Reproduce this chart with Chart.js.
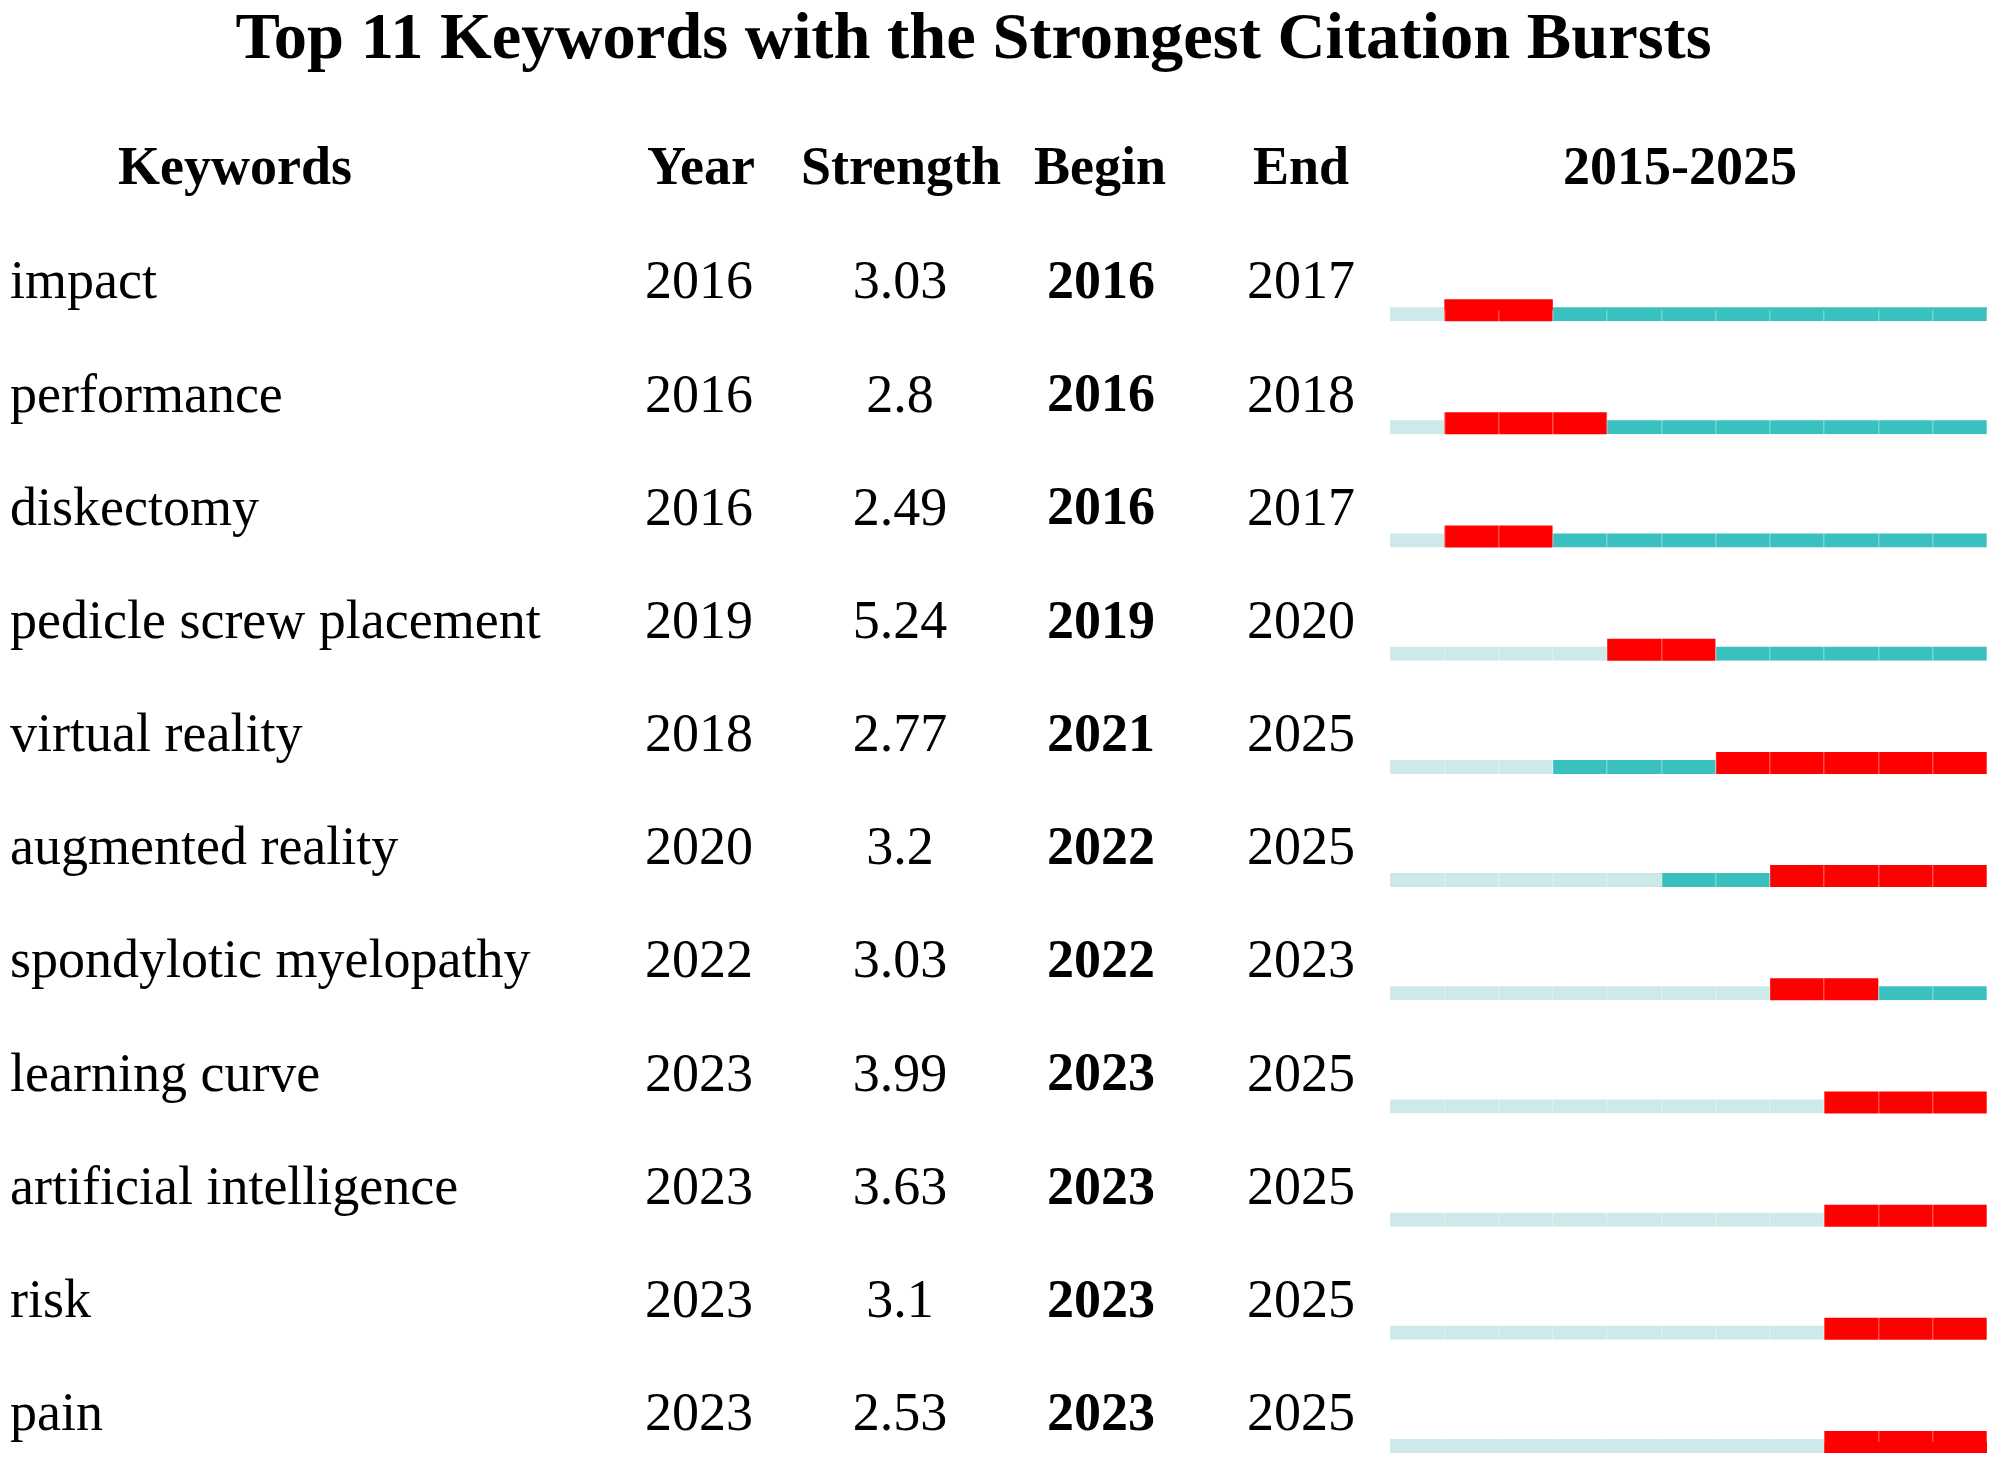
<!DOCTYPE html>
<html>
<head>
<meta charset="utf-8">
<script src="https://cdn.jsdelivr.net/npm/chart.js@4.4.1/dist/chart.umd.min.js"></script>
<style>
  html, body { margin: 0; padding: 0; background: #ffffff; }
  #wrap { width: 2000px; height: 1462px; }
</style>
</head>
<body>
<div id="wrap"><canvas id="c" width="2000" height="1462"></canvas></div>
<script>
// ---- Data ----
const keywords = ["impact", "performance", "diskectomy", "pedicle screw placement", "virtual reality",
  "augmented reality", "spondylotic myelopathy", "learning curve", "artificial intelligence", "risk", "pain"];
const years    = [2016, 2016, 2016, 2019, 2018, 2020, 2022, 2023, 2023, 2023, 2023];
const strength = [3.03, 2.8, 2.49, 5.24, 2.77, 3.2, 3.03, 3.99, 3.63, 3.1, 2.53];
const begins   = [2016, 2016, 2016, 2019, 2021, 2022, 2022, 2023, 2023, 2023, 2023];
const ends     = [2017, 2018, 2017, 2020, 2025, 2025, 2023, 2025, 2025, 2025, 2025];
const headers  = ["Keywords", "Year", "Strength", "Begin", "End", "2015-2025"];
const titleText = "Top 11 Keywords with the Strongest Citation Bursts";
const firstYear = 2015;
const lastYear  = 2025;

// ---- Segments derived from data ----
const preSeg   = years.map(y => y > firstYear ? [firstYear, y] : null);
const tealPre  = years.map((y, i) => begins[i] > y ? [y, begins[i]] : null);
const burstSeg = begins.map((b, i) => [b, ends[i] + 1]);
const tealPost = ends.map(e => e < lastYear ? [e + 1, lastYear + 1] : null);

const SERIF = "'Liberation Serif', 'Times New Roman', 'DejaVu Serif', serif";
const LABEL_OFFSET = -26;

const tablePlugin = {
  id: 'tablePlugin',
  afterDraw(chart) {
    const ctx = chart.ctx;
    const ys = chart.scales.y;
    ctx.save();
    ctx.fillStyle = '#000';
    ctx.textBaseline = 'middle';
    ctx.textAlign = 'center';
    // headers
    const hx = [235, 701, 901, 1100, 1301, 1680];
    ctx.font = 'bold 54px ' + SERIF;
    headers.forEach((h, i) => ctx.fillText(h, hx[i], 170));
    // columns
    keywords.forEach((k, i) => {
      const y = ys.getPixelForValue(i) + LABEL_OFFSET;
      ctx.font = '54px ' + SERIF;
      ctx.fillText(String(years[i]), 699, y);
      ctx.fillText(String(strength[i]), 900, y);
      ctx.fillText(String(ends[i]), 1301, y);
      ctx.font = 'bold 54px ' + SERIF;
      ctx.fillText(String(begins[i]), 1101, y);
    });
    ctx.restore();
  }
};

const thin = { top: 8, bottom: 0, left: 0, right: 0 };
const common = { grouped: false, borderSkipped: false, clip: false, inflateAmount: 0 };

new Chart(document.getElementById('c'), {
  type: 'bar',
  data: {
    labels: keywords,
    datasets: [
      Object.assign({ label: 'pre', data: preSeg, backgroundColor: '#cde9e9', borderColor: '#ffffff',
        borderWidth: thin, barThickness: 22 }, common),
      Object.assign({ label: 'active', data: tealPre, backgroundColor: '#3bc0c0', borderColor: '#ffffff',
        borderWidth: thin, barThickness: 22 }, common),
      Object.assign({ label: 'burst', data: burstSeg, backgroundColor: '#ff0000', borderWidth: 0,
        barThickness: 22 }, common),
      Object.assign({ label: 'active2', data: tealPost, backgroundColor: '#3bc0c0', borderColor: '#ffffff',
        borderWidth: thin, barThickness: 22 }, common)
    ]
  },
  options: {
    indexAxis: 'y',
    responsive: false,
    animation: false,
    devicePixelRatio: 1,
    layout: { padding: { top: 0, left: 10, right: 13, bottom: 20 } },
    plugins: {
      legend: { display: false },
      tooltip: { enabled: false },
      title: {
        display: true,
        text: titleText + '\u00a0\u00a0\u00a0',
        color: '#000',
        font: { family: SERIF, size: 66.5, weight: 'bold', lineHeight: 1.1 },
        padding: { top: 4, bottom: 233 }
      }
    },
    scales: {
      x: {
        type: 'linear',
        min: firstYear,
        max: lastYear + 1,
        ticks: { display: false, stepSize: 1 },
        border: { display: false },
        grid: { display: true, drawTicks: false, color: 'rgba(255,255,255,0.3)', lineWidth: 1.5, z: 1 },
        afterFit(s) { s.height = 0; s.paddingLeft = 0; s.paddingRight = 0; }
      },
      y: {
        type: 'category',
        offset: false,
        grid: { display: false },
        border: { display: false },
        ticks: {
          autoSkip: false,
          crossAlign: 'far',
          labelOffset: LABEL_OFFSET,
          color: '#000',
          font: { family: SERIF, size: 54 }
        },
        afterFit(s) { s.width = 1380; s.paddingTop = 0; s.paddingBottom = 0; }
      }
    }
  },
  plugins: [tablePlugin]
});
</script>
</body>
</html>
